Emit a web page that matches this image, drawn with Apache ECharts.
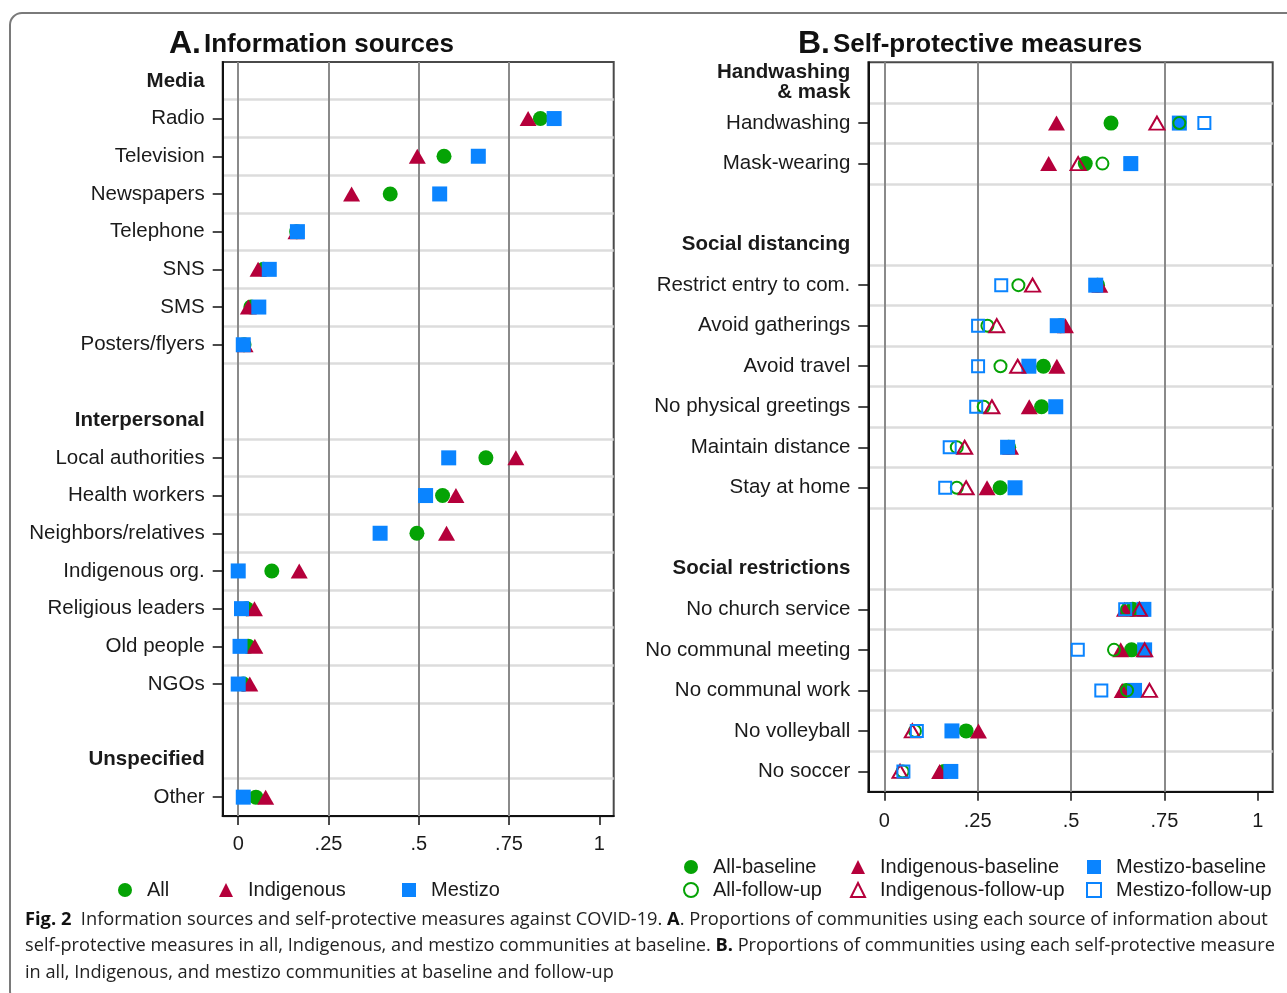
<!DOCTYPE html>
<html>
<head>
<meta charset="utf-8">
<title>Information sources and self-protective measures against COVID-19</title>
<script src="https://cdn.jsdelivr.net/npm/echarts@6/dist/echarts.min.js"></script>
<style>
  html, body { margin: 0; padding: 0; background: #fff; }
  #chart { width: 1287px; height: 993px; }
</style>
</head>
<body>
<div id="chart"></div>
<script>
// ---- Panel A: information sources (rows incl. group headers and spacer rows)
var sourceRows = ['Media', 'Radio', 'Television', 'Newspapers', 'Telephone', 'SNS', 'SMS', 'Posters/flyers', ' ',
  'Interpersonal', 'Local authorities', 'Health workers', 'Neighbors/relatives', 'Indigenous org.',
  'Religious leaders', 'Old people', 'NGOs', '  ', 'Unspecified', 'Other'];
var sourceHeaders = ['Media', 'Interpersonal', 'Unspecified'];
var sourceItems = ['Radio', 'Television', 'Newspapers', 'Telephone', 'SNS', 'SMS', 'Posters/flyers',
  'Local authorities', 'Health workers', 'Neighbors/relatives', 'Indigenous org.', 'Religious leaders',
  'Old people', 'NGOs', 'Other'];
var srcAll   = [0.837, 0.570, 0.421, 0.162, 0.070, 0.035, 0.016, 0.686, 0.566, 0.495, 0.093, 0.023, 0.028, 0.014, 0.049];
var srcIndig = [0.803, 0.496, 0.314, 0.160, 0.055, 0.028, 0.019, 0.769, 0.603, 0.577, 0.169, 0.045, 0.046, 0.032, 0.076];
var srcMest  = [0.875, 0.665, 0.558, 0.164, 0.086, 0.057, 0.014, 0.583, 0.519, 0.393, 0.000, 0.009, 0.005, 0.000, 0.014];

// ---- Panel B: self-protective measures
var measureRows = ['Handwashing\n& mask', 'Handwashing', 'Mask-wearing', ' ',
  'Social distancing', 'Restrict entry to com.', 'Avoid gatherings', 'Avoid travel', 'No physical greetings',
  'Maintain distance', 'Stay at home', '  ', 'Social restrictions', 'No church service',
  'No communal meeting', 'No communal work', 'No volleyball', 'No soccer'];
var measureHeaders = ['Handwashing\n& mask', 'Social distancing', 'Social restrictions'];
var measureItems = ['Handwashing', 'Mask-wearing', 'Restrict entry to com.', 'Avoid gatherings', 'Avoid travel',
  'No physical greetings', 'Maintain distance', 'Stay at home', 'No church service', 'No communal meeting',
  'No communal work', 'No volleyball', 'No soccer'];
var allBase   = [0.607, 0.538, 0.571, 0.472, 0.426, 0.421, 0.333, 0.310, 0.665, 0.662, 0.648, 0.219, 0.160];
var indigBase = [0.461, 0.440, 0.577, 0.485, 0.462, 0.388, 0.338, 0.275, 0.643, 0.633, 0.637, 0.252, 0.148];
var mestBase  = [0.790, 0.660, 0.566, 0.463, 0.387, 0.459, 0.330, 0.350, 0.695, 0.697, 0.670, 0.181, 0.178];
var allFU     = [0.790, 0.584, 0.359, 0.276, 0.311, 0.266, 0.194, 0.194, 0.650, 0.615, 0.650, 0.082, 0.049];
var indigFU   = [0.730, 0.519, 0.397, 0.301, 0.357, 0.288, 0.215, 0.219, 0.683, 0.697, 0.710, 0.075, 0.042];
var mestFU    = [0.857, 0.660, 0.313, 0.251, 0.251, 0.246, 0.175, 0.163, 0.645, 0.518, 0.581, 0.087, 0.051];

var xTicks = [0, 0.25, 0.5, 0.75, 1];
var xGridTicks = [0, 0.25, 0.5, 0.75];

var GREEN = '#05a305', RED = '#b5003b', BLUE = '#0a84ff';
var FONT = '"Liberation Sans", Arial, Helvetica, sans-serif';
var CAP = '"Open Sans", sans-serif';
var INK = '#1a1a1a';

function points(items, rows, values) {
  return values.map(function (v, i) { return [v, rows.indexOf(items[i])]; });
}
function isItem(rows, headers, i) {
  return i >= 0 && i < rows.length && headers.indexOf(rows[i]) < 0 && rows[i].trim() !== '';
}
function tickFmt(v) {
  if (v === 0) return '0';
  if (v === 1) return '1';
  return String(v).replace(/^0/, '');
}

function xAxesFor(gridIndex, labelMargin) {
  return [{
    gridIndex: gridIndex, type: 'value', min: -0.043, max: 1.04, position: 'bottom',
    axisLine: { show: true, onZero: false, lineStyle: { color: '#111', width: 2 } },
    axisTick: { show: true, inside: false, length: 9, customValues: xTicks, lineStyle: { color: '#111', width: 1.5 } },
    axisLabel: { customValues: xTicks, formatter: tickFmt, margin: labelMargin, fontSize: 20, color: INK, fontFamily: FONT },
    splitLine: { show: false }
  }, {
    gridIndex: gridIndex, type: 'value', min: -0.043, max: 1.04, position: 'bottom', z: 1,
    axisLine: { show: false, onZero: false }, axisLabel: { show: false },
    axisTick: { show: false, customValues: xGridTicks },
    splitLine: { show: true, lineStyle: { color: '#8a8a8a', width: 2 } }
  }];
}

function yAxisFor(gridIndex, rows, headers) {
  return {
    gridIndex: gridIndex, type: 'category', data: rows, inverse: true, boundaryGap: true, z: 0,
    position: 'left',
    axisLine: { show: true, onZero: false, lineStyle: { color: '#111', width: 2 } },
    axisTick: {
      show: true, inside: false, alignWithLabel: true, length: 10, lineStyle: { color: '#111', width: 1.5 },
      interval: function (i) { return isItem(rows, headers, i); }
    },
    axisLabel: {
      interval: 0, margin: 18, fontSize: 20.5, color: INK, fontFamily: FONT, lineHeight: 20,
      formatter: function (v) {
        if (headers.indexOf(v) >= 0) {
          return v.split('\n').map(function (s) { return '{h|' + s + '}'; }).join('\n');
        }
        return v;
      },
      rich: { h: { fontWeight: 'bold', fontSize: 20.5, fontFamily: FONT, color: INK, lineHeight: 20 } }
    },
    splitLine: {
      show: true, lineStyle: { color: '#dcdcdc', width: 2.5 },
      interval: function (i) { return isItem(rows, headers, i) || isItem(rows, headers, i - 1); }
    }
  };
}

function filled(name, symbol, size, color, xi, yi, data) {
  return {
    name: name, type: 'scatter', xAxisIndex: xi, yAxisIndex: yi, symbol: symbol, symbolSize: size,
    itemStyle: { color: color, opacity: 1 }, data: data
  };
}
function hollow(name, symbol, size, color, xi, yi, data) {
  return {
    name: name, type: 'scatter', xAxisIndex: xi, yAxisIndex: yi, symbol: symbol, symbolSize: size,
    itemStyle: { color: 'rgba(255,255,255,0)', borderColor: color, borderWidth: 2, opacity: 1 }, data: data
  };
}

var legendBase = {
  itemWidth: 14, itemHeight: 14, selectedMode: false,
  textStyle: { fontSize: 20, color: INK, fontFamily: FONT, padding: [0, 0, 0, 10] }
};
function legend(extra) { return Object.assign({}, legendBase, extra); }

var chart = echarts.init(document.getElementById('chart'));

var option = {
  animation: false,
  backgroundColor: '#fff',
  grid: [
    { left: 222.7, top: 62, width: 391, height: 754, show: true, borderColor: '#4a4a4a', borderWidth: 2, backgroundColor: '#fff' },
    { left: 868.3, top: 62.3, width: 404.4, height: 729.4, show: true, borderColor: '#4a4a4a', borderWidth: 2, backgroundColor: '#fff' }
  ],
  xAxis: xAxesFor(0, 18).concat(xAxesFor(1, 20)),
  yAxis: [yAxisFor(0, sourceRows, sourceHeaders), yAxisFor(1, measureRows, measureHeaders)],
  legend: [
    legend({ data: ['All'], left: 113, top: 875 }),
    legend({ data: ['Indigenous'], left: 214, top: 875 }),
    legend({ data: ['Mestizo'], left: 397, top: 875 }),
    legend({ data: ['All-baseline', 'All-follow-up'], orient: 'vertical', left: 678, top: 852, itemGap: 3 }),
    legend({ data: ['Indigenous-baseline', 'Indigenous-follow-up'], orient: 'vertical', left: 845, top: 852, itemGap: 3 }),
    legend({ data: ['Mestizo-baseline', 'Mestizo-follow-up'], orient: 'vertical', left: 1081, top: 852, itemGap: 3 })
  ],
  series: [
    filled('All', 'circle', 15, GREEN, 0, 0, points(sourceItems, sourceRows, srcAll)),
    filled('Indigenous', 'triangle', [17, 15], RED, 0, 0, points(sourceItems, sourceRows, srcIndig)),
    filled('Mestizo', 'rect', 15, BLUE, 0, 0, points(sourceItems, sourceRows, srcMest)),

    filled('All-baseline', 'circle', 15, GREEN, 2, 1, points(measureItems, measureRows, allBase)),
    filled('Indigenous-baseline', 'triangle', [17, 15], RED, 2, 1, points(measureItems, measureRows, indigBase)),
    filled('Mestizo-baseline', 'rect', 15, BLUE, 2, 1, points(measureItems, measureRows, mestBase)),
    hollow('All-follow-up', 'circle', 12, GREEN, 2, 1, points(measureItems, measureRows, allFU)),
    hollow('Indigenous-follow-up', 'triangle', [15, 13], RED, 2, 1, points(measureItems, measureRows, indigFU)),
    hollow('Mestizo-follow-up', 'rect', 12, BLUE, 2, 1, points(measureItems, measureRows, mestFU))
  ],
  graphic: [
    { type: 'rect', silent: true, z: -10, shape: { x: 10, y: 13, width: 1320, height: 990, r: 12 },
      style: { fill: 'none', stroke: '#7a7a7a', lineWidth: 2 } },
    { type: 'text', left: 169, top: 28, style: { text: 'A.', font: 'bold 32px ' + FONT, fill: '#111' } },
    { type: 'text', left: 204, top: 32, style: { text: 'Information sources', font: 'bold 26px ' + FONT, fill: '#111' } },
    { type: 'text', left: 798, top: 28, style: { text: 'B.', font: 'bold 32px ' + FONT, fill: '#111' } },
    { type: 'text', left: 833, top: 32, style: { text: 'Self-protective measures', font: 'bold 26px ' + FONT, fill: '#111' } },
    { type: 'text', left: 25, top: 911, style: {
        text: '{b|Fig. 2}  Information sources and self-protective measures against COVID-19. {b|A}. Proportions of communities using each source of information about',
        font: '18.3px ' + CAP, fill: '#222',
        rich: { b: { font: 'bold 18.3px ' + CAP, fill: '#111' } } } },
    { type: 'text', left: 25, top: 937, style: {
        text: 'self-protective measures in all, Indigenous, and mestizo communities at baseline. {b|B.} Proportions of communities using each self-protective measure',
        font: '18.2px ' + CAP, fill: '#222',
        rich: { b: { font: 'bold 18.2px ' + CAP, fill: '#111' } } } },
    { type: 'text', left: 25, top: 964, style: {
        text: 'in all, Indigenous, and mestizo communities at baseline and follow-up',
        font: '18.2px ' + CAP, fill: '#222' } }
  ]
};

chart.setOption(option);
window.addEventListener('resize', chart.resize);
</script>
</body>
</html>
